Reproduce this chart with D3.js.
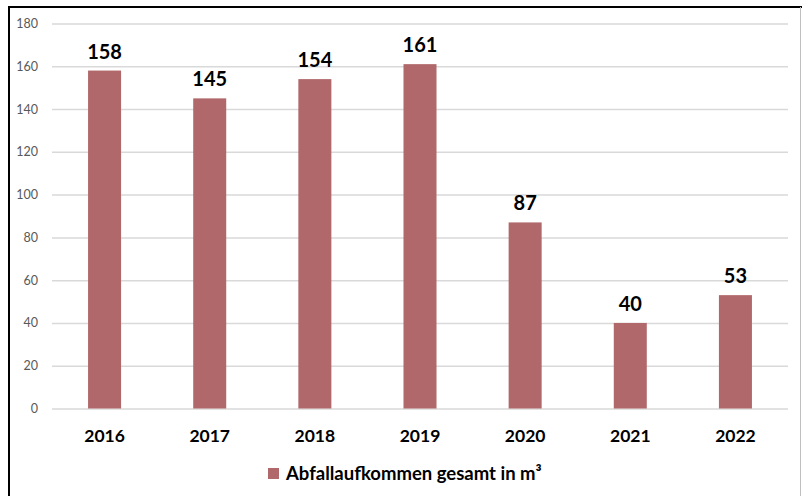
<!DOCTYPE html>
<html>
<head>
<meta charset="utf-8">
<script src="https://cdn.jsdelivr.net/npm/d3@7"></script>
<style>
  body { margin: 0; background: #fff; }
  svg { display: block; font-family: Lato, "Open Sans", sans-serif; }
</style>
</head>
<body>
<div id="chart"></div>
<script>
const years = ["2016", "2017", "2018", "2019", "2020", "2021", "2022"];
const volumes = [158, 145, 154, 161, 87, 40, 53];
const yTicks = [0, 20, 40, 60, 80, 100, 120, 140, 160, 180];
const seriesName = "Abfallaufkommen gesamt in m³";

const width = 802, height = 496;
const plot = { left: 52, right: 788, top: 23.5, bottom: 408.5 };
const barColor = "#b0686a";

const svg = d3.select("#chart").append("svg")
  .attr("width", width)
  .attr("height", height);

// frame
svg.append("line").attr("x1", 8).attr("x2", 802).attr("y1", 7).attr("y2", 7)
  .attr("stroke", "#000").attr("stroke-width", 2);
svg.append("line").attr("x1", 9).attr("x2", 9).attr("y1", 6).attr("y2", 496)
  .attr("stroke", "#000").attr("stroke-width", 2);
svg.append("line").attr("x1", 800.5).attr("x2", 800.5).attr("y1", 7).attr("y2", 496)
  .attr("stroke", "#bfbfbf").attr("stroke-width", 1);

const x = d3.scaleBand()
  .domain(years)
  .range([plot.left, plot.right])
  .paddingInner(0.686)
  .paddingOuter(0.343);

const y = d3.scaleLinear()
  .domain([0, 180])
  .range([plot.bottom, plot.top]);

// gridlines + y labels
const yAxis = d3.axisLeft(y)
  .tickValues(yTicks)
  .tickSize(-(plot.right - plot.left))
  .tickPadding(14);

svg.append("g")
  .attr("transform", "translate(" + plot.left + ",0)")
  .call(yAxis)
  .call(g => g.select(".domain").remove())
  .call(g => g.selectAll(".tick line").attr("stroke", "#d9d9d9").attr("stroke-width", 1.5))
  .call(g => g.selectAll(".tick text")
    .attr("fill", "#595959")
    .attr("font-size", 12.5)
    .attr("font-family", "Lato, 'Open Sans', sans-serif"));

// bars
svg.selectAll("rect.bar")
  .data(volumes)
  .enter()
  .append("rect")
  .attr("class", "bar")
  .attr("x", (d, i) => x(years[i]))
  .attr("y", d => y(d))
  .attr("width", x.bandwidth())
  .attr("height", d => y(0) - y(d))
  .attr("fill", barColor);

// value labels
svg.selectAll("text.val")
  .data(volumes)
  .enter()
  .append("text")
  .attr("class", "val")
  .attr("x", (d, i) => x(years[i]) + x.bandwidth() / 2)
  .attr("y", d => y(d) - 12)
  .attr("text-anchor", "middle")
  .attr("font-size", 20)
  .attr("font-weight", "bold")
  .attr("fill", "#000")
  .text(d => d);

// x axis labels
const xAxis = d3.axisBottom(x).tickSize(0).tickPadding(21);
svg.append("g")
  .attr("transform", "translate(0," + plot.bottom + ")")
  .call(xAxis)
  .call(g => g.select(".domain").remove())
  .call(g => g.selectAll(".tick text")
    .attr("fill", "#000")
    .attr("font-size", 17.5)
    .attr("font-weight", "bold")
    .attr("font-family", "Lato, 'Open Sans', sans-serif"));

// legend
const legend = svg.append("g").attr("transform", "translate(268,468)");
legend.append("rect").attr("width", 11).attr("height", 11).attr("fill", barColor);
legend.append("text")
  .attr("x", 18)
  .attr("y", 11.5)
  .attr("font-size", 18.5)
  .attr("font-weight", "bold")
  .attr("fill", "#000")
  .text(seriesName);
</script>
</body>
</html>
